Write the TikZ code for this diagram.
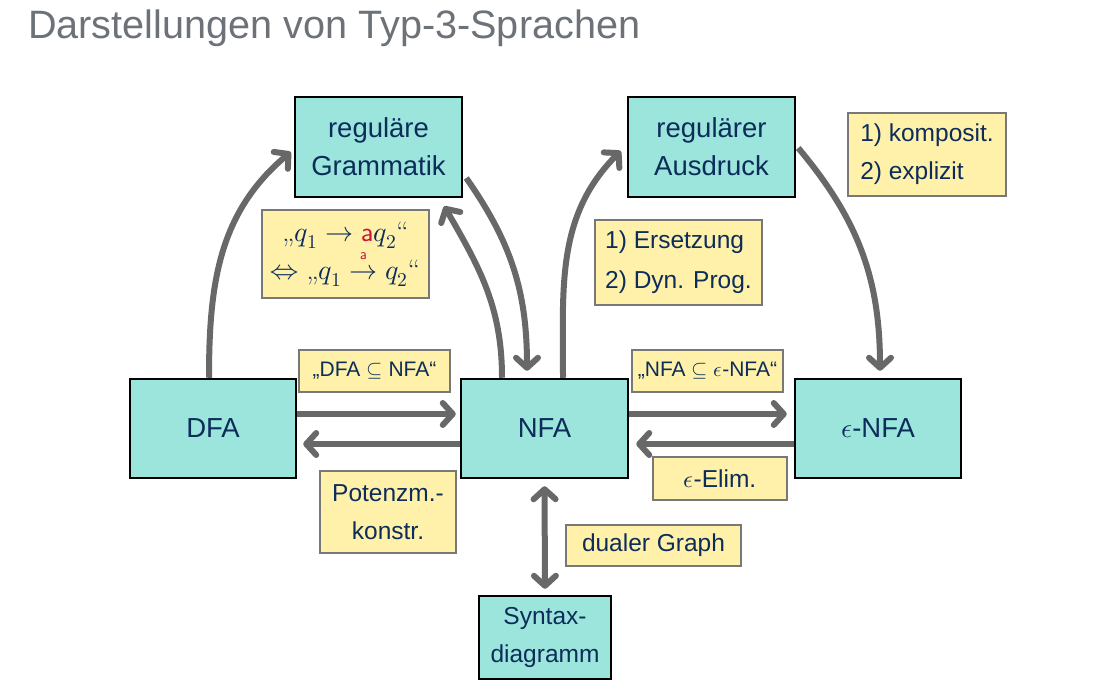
\documentclass[tikz,border=0pt]{standalone}
\usepackage{amsmath}
\usepackage{unicode-math}
\setmainfont{Liberation Sans}
\setmathfont{Latin Modern Math}
\newfontfamily\lmr{Latin Modern Roman}
\usetikzlibrary{arrows.meta}

\definecolor{turq}{RGB}{156,229,220}
\definecolor{note}{RGB}{255,240,170}
\definecolor{notegray}{RGB}{120,120,120}
\definecolor{navy}{RGB}{12,45,90}
\definecolor{arrowgray}{RGB}{104,104,104}
\definecolor{titlegray}{RGB}{108,114,120}
\definecolor{qred}{RGB}{200,20,60}

\newcommand{\gqopen}{{\lmr „}}
\newcommand{\gqclose}{{\lmr “}}

\tikzset{
  statebox/.style={draw=black, line width=2.5pt, fill=turq, text=navy,
    inner sep=0pt, align=center, font=\fontsize{27.5}{38}\selectfont},
  notebox/.style={draw=notegray, line width=2.5pt, fill=note, text=navy,
    inner sep=0pt, font=\fontsize{24.5}{38}\selectfont},
  smallnote/.style={notebox, font=\fontsize{21}{25}\selectfont},
  conv/.style={draw=arrowgray, line width=6pt,
    -{Straight Barb[length=10pt,width=22pt,round]}},
  biconv/.style={conv, {Straight Barb[length=10pt,width=22pt,round]}-{Straight Barb[length=10pt,width=22pt,round]}},
}

\begin{document}
\begin{tikzpicture}[x=1pt,y=-1pt]
\useasboundingbox (0,0) rectangle (1117,698);
\fill[white] (0,0) rectangle (1117,698);

% heading
\node[anchor=base west, inner sep=0pt, text=titlegray,
      font=\fontsize{39.6}{40}\selectfont] (title) at (28,39)
  {Darstellungen von Typ-3-Sprachen};

% representations
\node[statebox, minimum width=167pt, minimum height=100pt] (gram)  at (378.5,147) {reguläre\\Grammatik};
\node[statebox, minimum width=167pt, minimum height=100pt] (ausdr) at (711.5,147) {regulärer\\Ausdruck};
\node[statebox, minimum width=166pt, minimum height=99pt]  (dfa)   at (213,428.5) {DFA};
\node[statebox, minimum width=167pt, minimum height=99pt]  (nfa)   at (544.5,428.5) {NFA};
\node[statebox, minimum width=166pt, minimum height=99pt]  (enfa)  at (878,428.5) {$\epsilon$-NFA};
\node[statebox, minimum width=132pt, minimum height=83pt,
      font=\fontsize{24.5}{38}\selectfont]  (syn)   at (545,637.5) {Syntax-\\diagramm};

% annotations
\node[notebox, minimum width=167pt, minimum height=88pt, align=center,
      font=\fontsize{28}{35}\selectfont] (qbox) at (345.5,254)
  {\gqopen$q_1\rightarrow{}$\textcolor{qred}{\sffamily a}$q_2$\gqclose\\
   $\Leftrightarrow$ \gqopen$q_1 \stackrel{\textcolor{qred}{\mbox{\fontsize{15}{15}\selectfont\sffamily a}}}{\rightarrow} q_2$\gqclose};
\node[smallnote, minimum width=151pt, minimum height=42pt] (dfasub) at (374.5,371) {„DFA $\subseteq$ NFA“};
\node[smallnote, minimum width=151pt, minimum height=42pt] (nfasub) at (707.5,371) {„NFA $\subseteq$ $\epsilon$-NFA“};
\node[notebox, minimum width=136pt, minimum height=82pt, align=center] (potenz) at (388,512) {Potenzm.-\\konstr.};
\node[notebox, minimum width=134pt, minimum height=43pt] (elim) at (720,478.5) {$\epsilon$-Elim.};
\node[notebox, minimum width=175pt, minimum height=41pt] (dual) at (653.5,545.5) {dualer Graph};
\node[notebox, minimum width=167pt, minimum height=85pt, align=left,
      font=\fontsize{24.5}{40}\selectfont] (ersetz) at (678.5,262.5) {1) Ersetzung\\2) Dyn. Prog.};
\node[notebox, minimum width=158pt, minimum height=83pt, align=left] (kompos) at (927,154.5) {1) komposit.\\2) explizit};

% conversions
\draw[conv] ([xshift=-4pt]dfa.north) to[out=90,in=-140] ([xshift=-3pt,yshift=-5pt]gram.west);
\draw[conv] ([xshift=-42.5pt]nfa.north) to[out=90,in=-60] ([xshift=-19pt,yshift=-8pt]gram.south east);
\draw[conv] ([xshift=3pt,yshift=-31pt]gram.east) to[out=-55,in=90] ([xshift=-17.5pt,yshift=7pt]nfa.north);
\draw[conv] ([xshift=18.5pt]nfa.north) to[out=90,in=-135] ([xshift=-6pt,yshift=-4pt]ausdr.west);
\draw[conv] ([xshift=2pt,yshift=-1pt]ausdr.east) to[out=-50,in=90] ([xshift=2pt,yshift=7pt]enfa.north);

\draw[conv, shorten >=4pt] ([yshift=14.5pt]dfa.east) -- ([yshift=14.5pt]nfa.west);
\draw[conv, shorten >=6pt] ([yshift=-15.5pt]nfa.west) -- ([yshift=-15.5pt]dfa.east);
\draw[conv, shorten >=7pt] ([yshift=14.5pt]nfa.east) -- ([yshift=14.5pt]enfa.west);
\draw[conv, shorten >=7pt] ([yshift=-15.5pt]enfa.west) -- ([yshift=-15.5pt]nfa.east);
\draw[biconv, shorten <=7pt, shorten >=6pt] (nfa.south) -- (syn.north);
\end{tikzpicture}
\end{document}
